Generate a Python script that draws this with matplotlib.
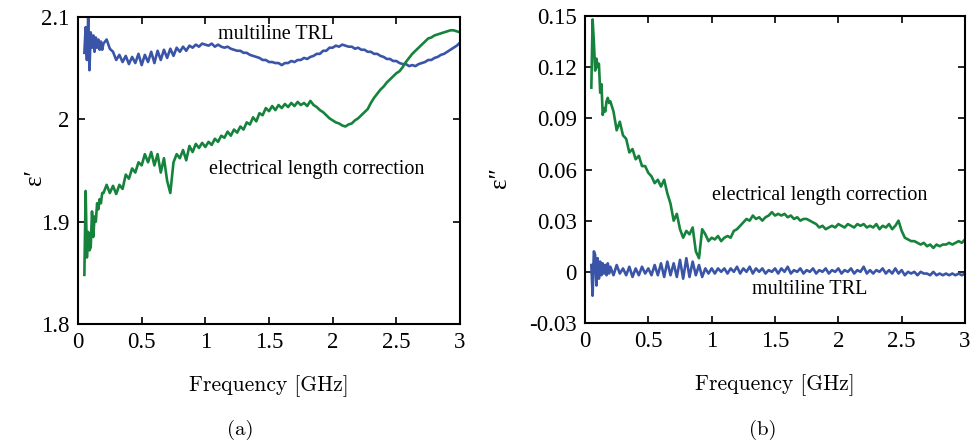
import numpy as np
import matplotlib
matplotlib.use("Agg")
import matplotlib.pyplot as plt

# frequency grid [GHz]: fine steps at the start, then 0.025 GHz steps
freq = np.concatenate([np.arange(0.05, 0.195, 0.01), np.arange(0.2, 3.0001, 0.025)])

# eps' , multiline TRL
eps1_trl = [2.065, 2.090, 2.058, 2.100, 2.048, 2.085, 2.070, 2.082, 2.066, 2.080, 2.070, 2.078, 2.068, 2.076, 2.068,
            2.074, 2.078, 2.069, 2.066, 2.058, 2.063, 2.056, 2.062,
            2.054, 2.061, 2.055, 2.064, 2.053, 2.063, 2.056, 2.066,
            2.055, 2.067, 2.058, 2.068, 2.060, 2.069, 2.062, 2.070,
            2.066, 2.071, 2.067, 2.072, 2.070, 2.073, 2.071, 2.074,
            2.073, 2.072, 2.074, 2.071, 2.073, 2.071, 2.070, 2.071,
            2.069, 2.068, 2.067, 2.067, 2.065, 2.065, 2.063, 2.062,
            2.061, 2.060, 2.058, 2.058, 2.056, 2.056, 2.055, 2.055,
            2.053, 2.055, 2.055, 2.057, 2.056, 2.058, 2.058, 2.060,
            2.059, 2.061, 2.062, 2.064, 2.064, 2.067, 2.067, 2.070,
            2.070, 2.072, 2.071, 2.073, 2.072, 2.071, 2.071, 2.069,
            2.070, 2.068, 2.068, 2.066, 2.066, 2.064, 2.064, 2.062,
            2.061, 2.059, 2.059, 2.057, 2.057, 2.055, 2.054, 2.054,
            2.052, 2.053, 2.052, 2.054, 2.055, 2.056, 2.058, 2.058,
            2.060, 2.061, 2.063, 2.064, 2.066, 2.068, 2.070, 2.072,
            2.075]

# eps' , electrical length correction
eps1_elc = [1.848, 1.930, 1.865, 1.890, 1.872, 1.875, 1.910, 1.885, 1.905, 1.900, 1.918, 1.912, 1.922, 1.918, 1.928,
            1.928, 1.936, 1.928, 1.935, 1.927, 1.936, 1.932, 1.946,
            1.942, 1.952, 1.948, 1.958, 1.955, 1.966, 1.958, 1.968,
            1.955, 1.966, 1.948, 1.962, 1.940, 1.928, 1.958, 1.966,
            1.962, 1.970, 1.960, 1.974, 1.968, 1.976, 1.972, 1.977,
            1.973, 1.978, 1.975, 1.981, 1.978, 1.984, 1.982, 1.988,
            1.984, 1.990, 1.987, 1.993, 1.990, 1.997, 1.995, 2.002,
            1.998, 2.006, 2.004, 2.011, 2.008, 2.013, 2.009, 2.014,
            2.011, 2.015, 2.012, 2.016, 2.013, 2.017, 2.014, 2.016,
            2.013, 2.018, 2.014, 2.012, 2.009, 2.007, 2.004, 2.001,
            1.999, 1.997, 1.996, 1.994, 1.993, 1.995, 1.996, 1.999,
            2.001, 2.004, 2.007, 2.010, 2.016, 2.021, 2.025, 2.029,
            2.032, 2.036, 2.039, 2.042, 2.045, 2.047, 2.051, 2.056,
            2.060, 2.064, 2.067, 2.070, 2.073, 2.076, 2.079, 2.080,
            2.082, 2.083, 2.084, 2.085, 2.086, 2.087, 2.087, 2.086,
            2.085]

# eps'' , multiline TRL
eps2_trl = [0.004, -0.014, 0.012, 0.010, -0.008, 0.008, -0.004, 0.006, -0.002, 0.005, -0.001, 0.004, -0.002, 0.005, -0.001,
            0.003, -0.002, 0.004, -0.001, 0.002, -0.002, 0.003, -0.003,
            0.002, -0.002, 0.003, -0.001, 0.002, -0.002, 0.004, -0.002,
            0.005, -0.003, 0.006, -0.002, 0.005, -0.003, 0.007, -0.004,
            0.008, -0.003, 0.006, -0.002, 0.004, -0.003, 0.002, -0.001,
            0.002, -0.001, 0.002, 0.000, 0.002, -0.001, 0.002, 0.000,
            0.003, -0.001, 0.002, 0.000, 0.003, -0.001, 0.002, 0.000,
            0.002, -0.001, 0.001, 0.000, 0.002, -0.001, 0.002, 0.000,
            0.003, -0.001, 0.001, 0.000, 0.002, -0.001, 0.001, 0.000,
            0.002, -0.001, 0.001, 0.000, 0.002, -0.001, 0.001, 0.000,
            0.002, -0.001, 0.001, 0.000, 0.002, -0.001, 0.001, 0.000,
            0.003, -0.001, 0.001, -0.001, 0.001, 0.000, 0.002, -0.001,
            0.001, -0.001, 0.002, -0.001, 0.001, -0.002, 0.000, -0.001,
            0.000, -0.002, 0.000, -0.001, -0.001, -0.002, 0.000, -0.002,
            -0.001, -0.002, -0.001, -0.002, -0.001, -0.002, -0.001, -0.002,
            -0.001]

# eps'' , electrical length correction
eps2_elc = [0.108, 0.148, 0.135, 0.118, 0.125, 0.120, 0.122, 0.105, 0.110, 0.092, 0.096, 0.094, 0.100, 0.102, 0.099,
            0.100, 0.094, 0.083, 0.088, 0.080, 0.078, 0.070, 0.072,
            0.066, 0.068, 0.062, 0.062, 0.058, 0.056, 0.052, 0.054,
            0.050, 0.054, 0.046, 0.040, 0.030, 0.034, 0.025, 0.020,
            0.024, 0.022, 0.026, 0.012, 0.008, 0.025, 0.022, 0.018,
            0.020, 0.019, 0.021, 0.018, 0.020, 0.021, 0.020, 0.024,
            0.025, 0.027, 0.029, 0.031, 0.030, 0.033, 0.031, 0.032,
            0.030, 0.032, 0.033, 0.035, 0.033, 0.034, 0.033, 0.034,
            0.032, 0.033, 0.031, 0.032, 0.030, 0.031, 0.031, 0.030,
            0.029, 0.028, 0.026, 0.027, 0.025, 0.026, 0.027, 0.026,
            0.028, 0.027, 0.026, 0.028, 0.027, 0.026, 0.028, 0.027,
            0.028, 0.026, 0.027, 0.026, 0.028, 0.025, 0.027, 0.026,
            0.028, 0.025, 0.027, 0.030, 0.024, 0.020, 0.019, 0.018,
            0.018, 0.017, 0.016, 0.017, 0.015, 0.016, 0.014, 0.016,
            0.015, 0.016, 0.016, 0.017, 0.016, 0.017, 0.018, 0.017,
            0.019]

xticks = [0, 0.5, 1, 1.5, 2, 2.5, 3]
xtick_labels = ["0", "0.5", "1", "1.5", "2", "2.5", "3"]
yticks_a = [1.8, 1.9, 2.0, 2.1]
ytick_labels_a = ["1.8", "1.9", "2", "2.1"]
yticks_b = [-0.03, 0, 0.03, 0.06, 0.09, 0.12, 0.15]
ytick_labels_b = ["-0.03", "0", "0.03", "0.06", "0.09", "0.12", "0.15"]

blue = "#3a55a8"
green = "#16833d"
tickfont = "Liberation Serif"
labfont = "cmr10"

fig = plt.figure(figsize=(9.72, 4.46), dpi=100)
axa = fig.add_axes([78/972, 1 - 324/446, 382/972, 307/446])
axb = fig.add_axes([585/972, 1 - 323/446, 380/972, 307/446])

axa.plot(freq, eps1_trl, color=blue, lw=1.9)
axa.plot(freq, eps1_elc, color=green, lw=1.9)
axb.plot(freq, eps2_elc, color=green, lw=1.9)
axb.plot(freq, eps2_trl, color=blue, lw=1.9)

axa.set_xlim(0, 3)
axa.set_ylim(1.8, 2.1)
axb.set_xlim(0, 3)
axb.set_ylim(-0.03, 0.15)

axa.set_yticks(yticks_a, ytick_labels_a)
axb.set_yticks(yticks_b, ytick_labels_b)

for ax in (axa, axb):
    ax.set_xticks(xticks, xtick_labels)
    ax.tick_params(direction="in", top=True, right=True, length=5, width=1.2, labelsize=16.5, pad=6)
    for lab in ax.get_xticklabels() + ax.get_yticklabels():
        lab.set_family(tickfont)
    for sp in ax.spines.values():
        sp.set_linewidth(1.5)
    ax.set_xlabel("Frequency [GHz]", family=labfont, fontsize=15.5, labelpad=16)

axa.text(1.1, 2.074, "multiline TRL", family=tickfont, fontsize=14.5, ha="left", va="bottom")
axa.text(1.03, 1.96, "electrical length correction", family=tickfont, fontsize=14.5, ha="left", va="top")
axb.text(1.0, 0.039, "electrical length correction", family=tickfont, fontsize=14.5, ha="left", va="bottom")
axb.text(1.32, -0.005, "multiline TRL", family=tickfont, fontsize=14.5, ha="left", va="top")

fig.text(35/972, 1 - 177/446, "ε′", family=tickfont, fontsize=18, rotation=90, ha="center", va="center")
fig.text(500/972, 1 - 178/446, "ε″", family=tickfont, fontsize=18, rotation=90, ha="center", va="center")

fig.text(240/972, 1 - 430/446, "(a)", family=labfont, fontsize=15, ha="center", va="center")
fig.text(763/972, 1 - 430/446, "(b)", family=labfont, fontsize=15, ha="center", va="center")

fig.savefig("out.png", dpi=100)
